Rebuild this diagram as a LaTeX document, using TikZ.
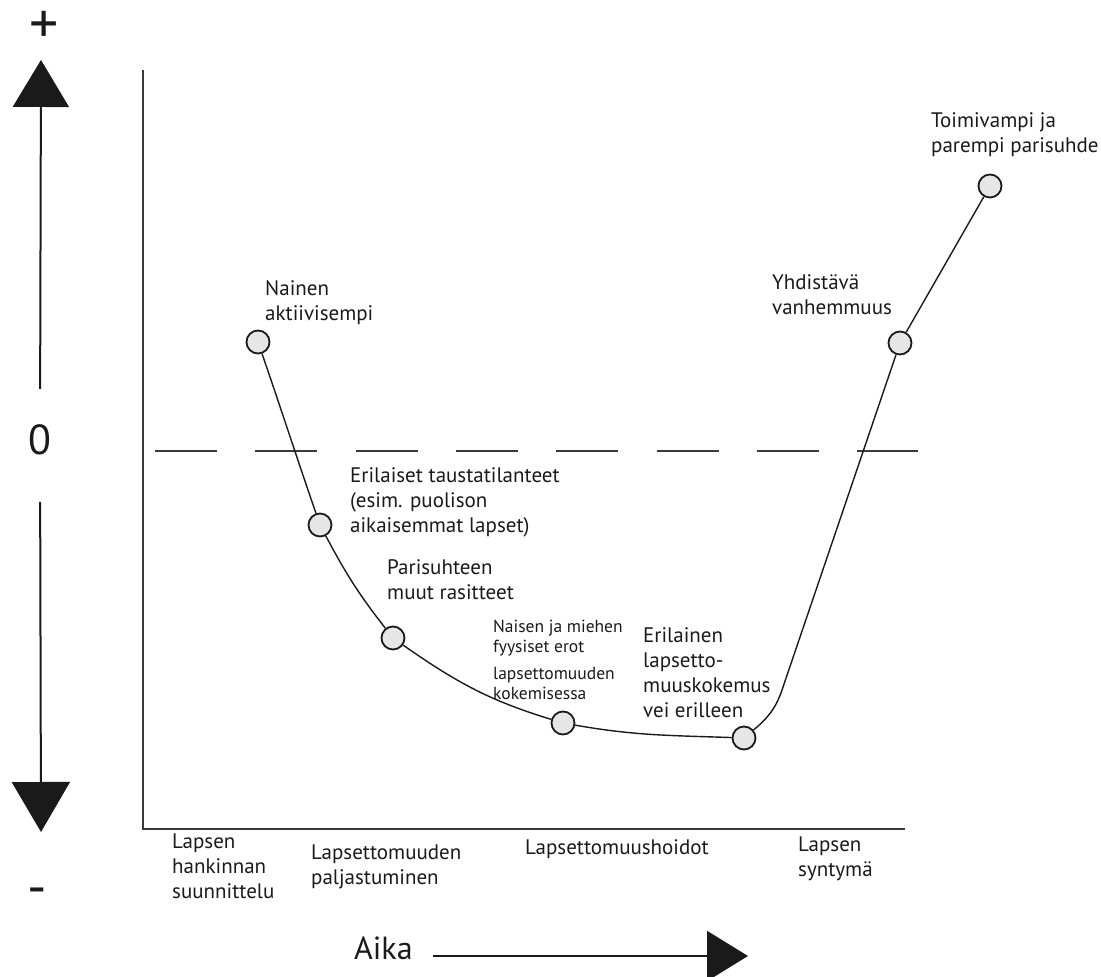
\documentclass[tikz,border=0pt]{standalone}
\usepackage{fontspec}
\setmainfont{PT Sans}
\usetikzlibrary{arrows.meta}
\definecolor{ink}{HTML}{1A1A1A}
\definecolor{linec}{HTML}{3A3A3A}
\definecolor{dotfill}{HTML}{E6E6E6}
\begin{document}
\begin{tikzpicture}[x=1pt,y=1pt,
  dot/.style={circle,draw=ink,line width=1.8pt,fill=dotfill,minimum size=23pt,inner sep=0pt},
  lbl/.style={anchor=base west,align=left,inner sep=0pt,text=ink,font=\fontsize{21}{25}\selectfont},
  lblsmall/.style={anchor=base west,align=left,inner sep=0pt,text=ink,font=\fontsize{17.5}{20}\selectfont},
  curve/.style={draw=ink,line width=1.4pt},
  axis/.style={draw=linec,line width=2.4pt},
  big/.style={inner sep=0pt,text=ink}]
\useasboundingbox (0,0) rectangle (1101,977);

% axes
\coordinate (atop) at (143,907);
\coordinate (acorner) at (143,148);
\coordinate (aright) at (905,148);
\draw[axis,line join=miter] (atop) -- (acorner) -- (aright);

% zero line
\coordinate (zl) at (155,526);
\coordinate (zr) at (918,526);
\draw[draw=linec,line width=2.4pt,dash pattern=on 62pt off 38.3pt] (zl) -- (zr);

% vertical value arrow
\node[big,font=\fontsize{42}{48}\selectfont] (zero) at (40,537) {0};
\node[big,font=\fontsize{58}{60}\selectfont,anchor=base] (plus) at (44,933) {+};
\node[big,font=\fontsize{54}{60}\selectfont] (minus) at (37,80) {-};
\coordinate (vtop) at (41,917);
\coordinate (vbot) at (41,145);
\draw[draw=ink,line width=2pt,shorten <=51pt,-{Triangle[length=47pt,width=56pt]}] (zero.center) -- (vtop);
\draw[draw=ink,line width=2pt,shorten <=62pt,-{Triangle[length=50pt,width=58pt]}] (zero.center) -- (vbot);

% time arrow
\node[anchor=base west,inner sep=0pt,text=ink,font=\fontsize{32}{36}\selectfont] (aika) at (354,17) {Aika};
\coordinate (tend) at (748,21);
\draw[draw=ink,line width=2pt,-{Triangle[length=41pt,width=50pt]}] (aika.east |- tend) ++(20,0) coordinate (tstart) (tstart) -- (tend);

% data points
\node[dot] (n1) at (258,635) {};
\node[dot] (n2) at (320,452) {};
\node[dot] (n3) at (393,339) {};
\node[dot] (n4) at (563,254) {};
\node[dot] (n5) at (744,239) {};
\node[dot] (n6) at (900,634) {};
\node[dot] (n7) at (990,791) {};
\coordinate (k) at (782,287);

\draw[curve] (n1) to[out=-71,in=109] (n2);
\draw[curve] (n2) to[out=-62,in=128] (n3);
\draw[curve] (n3) to[out=-35,in=163] (n4);
\draw[curve] (n4) to[out=-10,in=178] (n5);
\draw[curve] (n5) to[out=40,in=-108.8] (k) -- (n6);
\draw[curve] (n6) -- (n7);

% point labels (anchor = baseline of last line)
\node[lbl] (l1) at (265,656) {Nainen\\aktiivisempi};
\node[lbl] (l2) at (350,444) {Erilaiset taustatilanteet\\(esim. puolison\\aikaisemmat lapset)};
\node[lbl] (l3) at (387,377) {Parisuhteen\\muut rasitteet};
\node[lblsmall] (l4) at (493,277) {Naisen ja miehen\\fyysiset erot\\[7pt]lapsettomuuden\\kokemisessa};
\node[lbl] (l5) at (643,259) {Erilainen\\lapsetto-\\muuskokemus\\vei erilleen};
\node[lbl] (l6) at (772,662) {Yhdistävä\\vanhemmuus};
\node[lbl] (l7) at (931,824) {Toimivampi ja\\parempi parisuhde};

% time labels
\node[lbl] (b1) at (172,78) {Lapsen\\hankinnan\\suunnittelu};
\node[lbl] (b2) at (311,92) {Lapsettomuuden\\paljastuminen};
\node[lbl] (b3) at (525,122) {Lapsettomuushoidot};
\node[lbl] (b4) at (798,100) {Lapsen\\syntymä};
\end{tikzpicture}
\end{document}
